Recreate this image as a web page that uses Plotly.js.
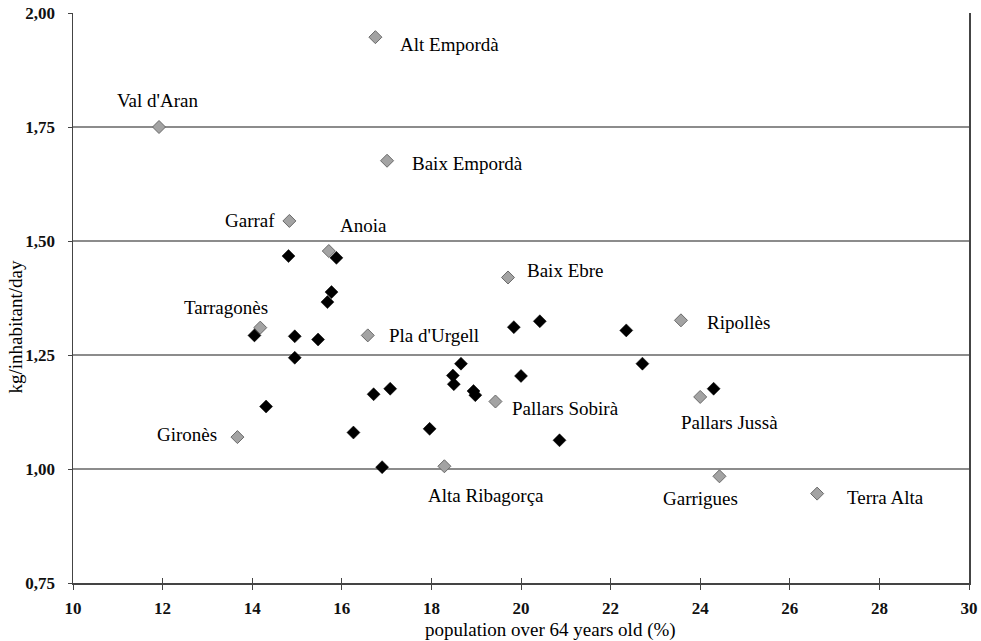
<!DOCTYPE html>
<html>
<head>
<meta charset="utf-8">
<script src="https://cdn.plot.ly/plotly-3.0.1.min.js"></script>
<style>html,body{margin:0;padding:0;background:#fff;}#chart{width:981px;height:641px;}</style>
</head>
<body>
<div id="chart"></div>
<script>
// Labelled comarques (grey diamonds)
var labelNames = ["Val d'Aran", "Alt Empordà", "Baix Empordà", "Garraf", "Anoia", "Baix Ebre", "Tarragonès", "Pla d'Urgell", "Ripollès", "Pallars Sobirà", "Pallars Jussà", "Gironès", "Alta Ribagorça", "Garrigues", "Terra Alta"];
var labelX = [11.92, 16.75, 17.01, 14.83, 15.71, 19.71, 14.18, 16.58, 23.57, 19.43, 24.00, 13.67, 18.29, 24.43, 26.61];
var labelY = [1.750, 1.947, 1.676, 1.544, 1.478, 1.420, 1.310, 1.293, 1.326, 1.148, 1.158, 1.070, 1.006, 0.984, 0.946];

// Other comarques (black diamonds)
var otherX = [14.81, 15.88, 15.77, 15.68, 14.05, 14.95, 15.47, 14.95, 19.84, 20.42, 18.66, 18.48, 18.50, 18.94, 18.98, 20.00, 17.08, 16.71, 14.31, 16.26, 17.96, 16.90, 22.35, 22.71, 24.30, 20.86];
var otherY = [1.467, 1.463, 1.388, 1.366, 1.293, 1.291, 1.284, 1.244, 1.311, 1.324, 1.231, 1.205, 1.186, 1.171, 1.162, 1.204, 1.176, 1.164, 1.137, 1.080, 1.088, 1.004, 1.304, 1.231, 1.176, 1.063];

// Axis settings
var xRange = [10, 30];
var yRange = [0.75, 2.0];
var xTitle = "population over 64 years old (%)";
var yTitle = "kg/inhabitant/day";

// Label placement (pixels, relative to the marker)
var labelPlacement = {
  "Val d'Aran":     {anchor: "center", dx: -2,  dy: 27},
  "Alt Empordà":    {anchor: "left",   dx: 23,  dy: -7},
  "Baix Empordà":   {anchor: "left",   dx: 23,  dy: -3},
  "Garraf":         {anchor: "right",  dx: -12, dy: 0},
  "Anoia":          {anchor: "center", dx: 35,  dy: 26},
  "Baix Ebre":      {anchor: "left",   dx: 17,  dy: 7},
  "Tarragonès":     {anchor: "center", dx: -34, dy: 20},
  "Pla d'Urgell":   {anchor: "left",   dx: 19,  dy: 0},
  "Ripollès":       {anchor: "left",   dx: 24,  dy: -2},
  "Pallars Sobirà": {anchor: "left",   dx: 15,  dy: -7},
  "Pallars Jussà":  {anchor: "center", dx: 29,  dy: -26},
  "Gironès":        {anchor: "right",  dx: -18, dy: 3},
  "Alta Ribagorça": {anchor: "center", dx: 42,  dy: -29},
  "Garrigues":      {anchor: "center", dx: -19, dy: -22},
  "Terra Alta":     {anchor: "left",   dx: 28,  dy: -4}
};

var serif = "Liberation Serif";

var traces = [
  {
    x: labelX, y: labelY, type: "scatter", mode: "markers",
    marker: {symbol: "diamond", size: 10, color: "#a3a3a3", line: {color: "#6a6a6a", width: 1}},
    hoverinfo: "none", showlegend: false, cliponaxis: false
  },
  {
    x: otherX, y: otherY, type: "scatter", mode: "markers",
    marker: {symbol: "diamond", size: 10, color: "#000000", line: {color: "#000000", width: 0.5}},
    hoverinfo: "none", showlegend: false, cliponaxis: false
  },
  {x: [], y: [], xaxis: "x2", type: "scatter", showlegend: false, hoverinfo: "none"}
];

var annotations = labelNames.map(function (n, i) {
  var p = labelPlacement[n];
  return {
    x: labelX[i], y: labelY[i], xref: "x", yref: "y", text: n, showarrow: false,
    xanchor: p.anchor, yanchor: "middle", xshift: p.dx, yshift: p.dy,
    font: {family: serif, size: 19, color: "#000"}
  };
});
annotations.push({
  xref: "paper", yref: "paper", x: 0.5333, y: -0.083, text: xTitle, showarrow: false,
  xanchor: "center", yanchor: "middle", font: {family: serif, size: 19, color: "#000"}
});
annotations.push({
  xref: "paper", yref: "paper", x: -0.0644, y: 0.4488, text: yTitle, showarrow: false,
  textangle: -90, xanchor: "center", yanchor: "middle", font: {family: serif, size: 19, color: "#000"}
});

var tickFont = {family: serif, size: 17, color: "#111", weight: "bold"};

var layout = {
  width: 981, height: 641,
  margin: {l: 73, r: 12, t: 13, b: 58, pad: 0},
  paper_bgcolor: "#ffffff", plot_bgcolor: "#ffffff",
  separators: ",.",
  showlegend: false,
  font: {family: serif},
  xaxis: {
    range: xRange, dtick: 2, tick0: 10, showgrid: false, zeroline: false,
    showline: true, linecolor: "#444", linewidth: 1.5,
    ticks: "outside", ticklen: 5, tickcolor: "#444", tickwidth: 1,
    tickfont: tickFont, ticklabelstandoff: 4
  },
  xaxis2: {
    overlaying: "x", range: xRange, dtick: 2, tick0: 10, showgrid: false, zeroline: false,
    showline: false, ticks: "inside", ticklen: 5, tickcolor: "#444", tickwidth: 1,
    showticklabels: false, side: "bottom"
  },
  yaxis: {
    range: yRange, dtick: 0.25, tick0: 0.75, tickformat: ".2f",
    showgrid: true, gridcolor: "#8c8c8c", gridwidth: 1.5, zeroline: false,
    showline: true, linecolor: "#444", linewidth: 1.5, mirror: true,
    ticks: "outside", ticklen: 4, tickcolor: "#444", tickwidth: 1,
    tickfont: tickFont, ticklabelstandoff: 9
  },
  annotations: annotations
};

Plotly.newPlot("chart", traces, layout, {displayModeBar: false, staticPlot: true});
</script>
</body>
</html>
